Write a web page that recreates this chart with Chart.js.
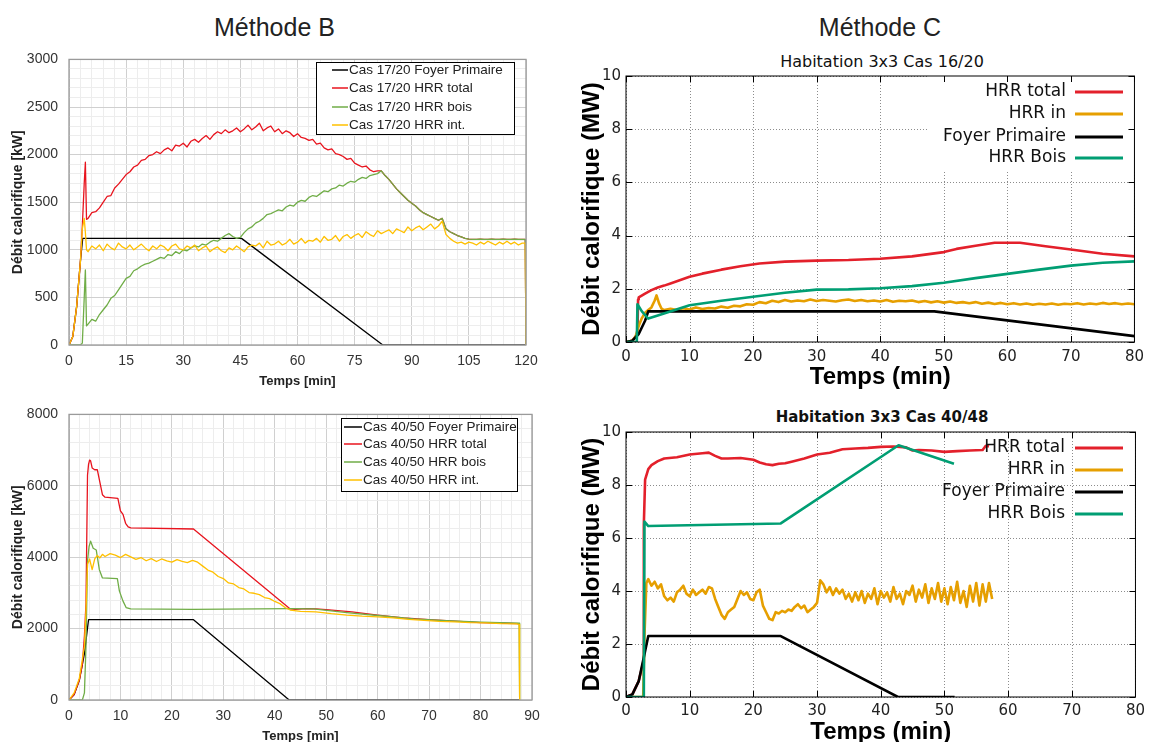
<!DOCTYPE html>
<html>
<head>
<meta charset="utf-8">
<script src="https://cdn.jsdelivr.net/npm/chart.js@4.4.1/dist/chart.umd.min.js"></script>
<style>
body { margin:0; width:1150px; height:742px; overflow:hidden; background:#fff; position:relative; }
canvas { position:absolute; }
.head { position:absolute; text-align:center; font-family:'Liberation Sans', Arial, sans-serif; font-size:25px; color:#222; line-height:30px; }
.sub { position:absolute; text-align:center; font-family:'DejaVu Sans', sans-serif; color:#111; line-height:20px; }
</style>
</head>
<body>
<div class="head" style="left:0;top:12px;width:549px">Méthode B</div>
<div class="head" style="left:610px;top:12px;width:540px">Méthode C</div>
<div class="sub" style="left:622px;top:52px;width:520px;font-size:16px">Habitation 3x3 Cas 16/20</div>
<div class="sub" style="left:622px;top:407px;width:520px;font-size:15px;font-weight:bold">Habitation 3x3 Cas 40/48</div>
<canvas id="cA" width="560" height="355" style="left:0;top:40px"></canvas>
<canvas id="cB" width="560" height="355" style="left:0;top:395px"></canvas>
<canvas id="cC" width="590" height="355" style="left:560px;top:40px"></canvas>
<canvas id="cD" width="590" height="355" style="left:560px;top:395px"></canvas>
<script>
// Méthode B - Cas 17/20 (kW)
var tA = [0,1,2,3,3.5,4,4.3,4.6,
  5,6,7,8,9,10,11,12,13,14,
  15,16,17,18,19,20,21,22,23,24,
  25,26,27,28,29,30,31,32,33,34,
  35,36,37,38,39,40,41,42,43,44,
  45,46,47,48,49,50,51,52,53,54,
  55,56,57,58,59,60,61,62,63,64,
  65,66,67,68,69,70,71,72,73,74,
  75,76,77,78,79,80,81,82,83,84,
  85,86,87,88,89,90,91,92,93,94,
  95,96,97,98,99,100,101,102,103,104,
  105,106,107,108,109,110,111,112,113,114,
  115,116,117,118,119,119.8,120];
var totalA = [0,90,400,880,1250,1700,1920,1320,
  1330,1390,1400,1440,1500,1560,1570,1650,1690,1740,
  1790,1820,1870,1890,1940,1950,1990,2000,2030,2010,
  2050,2070,2040,2100,2090,2120,2080,2140,2160,2130,
  2170,2200,2160,2210,2240,2220,2260,2230,2250,2280,
  2240,2270,2310,2260,2290,2330,2250,2280,2300,2240,
  2270,2220,2250,2230,2190,2220,2180,2170,2150,2160,
  2110,2120,2070,2050,2060,2010,2000,1980,1950,1960,
  1910,1890,1870,1880,1840,1820,1830,1830,1780,1740,
  1690,1640,1600,1560,1520,1490,1460,1420,1390,1370,
  1350,1330,1310,1330,1220,1190,1170,1150,1135,1120,
  1112,1110,1110,1112,1110,1110,1112,1110,1110,1112,
  1110,1110,1112,1110,1110,1110,0];
var boisA = [0,0,0,0,20,500,790,200,
  220,270,250,320,370,420,490,520,580,640,
  700,720,780,800,830,850,860,880,900,920,
  910,950,940,980,960,1000,990,1020,1040,1030,
  1060,1050,1080,1100,1090,1120,1150,1170,1140,1120,
  1130,1180,1220,1240,1280,1300,1330,1370,1380,1400,
  1420,1410,1450,1470,1460,1500,1520,1510,1550,1570,
  1560,1590,1620,1610,1640,1650,1680,1670,1700,1720,
  1710,1740,1760,1750,1780,1790,1800,1830,1780,1740,
  1690,1640,1600,1560,1520,1490,1460,1420,1390,1370,
  1350,1330,1310,1330,1220,1190,1170,1150,1135,1120,
  1112,1110,1110,1112,1110,1110,1112,1110,1110,1112,
  1110,1110,1112,1110,1110,1110,0];
var intA = [0,90,400,880,1220,1330,1180,1000,
  980,1040,1010,1050,990,1060,1020,1000,1070,1030,
  1010,1050,1000,1030,1060,1020,990,1040,1010,1050,
  1030,990,1040,1060,1010,1000,1040,1020,1050,990,
  1020,1040,980,1010,1030,990,970,1020,1000,1040,
  1010,980,1030,1050,1040,1070,1020,1090,1050,1060,
  1090,1050,1070,1110,1060,1080,1120,1070,1100,1090,
  1120,1080,1140,1100,1110,1150,1090,1140,1160,1120,
  1150,1170,1130,1190,1160,1140,1200,1170,1190,1210,
  1170,1220,1200,1180,1240,1200,1230,1250,1210,1240,
  1270,1220,1250,1300,1160,1120,1090,1070,1080,1060,
  1080,1070,1050,1080,1060,1090,1070,1050,1080,1060,
  1090,1060,1080,1050,1070,1070,0];
var foyerAt = [0,1,2,3,3.6,45.3,82.4,120];
var foyerAv = [0,90,400,880,1120,1120,0,0];

// Méthode B - Cas 40/50 (kW)
var totalBt = [0,1,2,2.6,3,3.3,3.6,3.8,4,4.2,4.5,5,5.5,6,6.5,7,9.5,10,10.5,11,11.5,12,24.2,43,44,46,48,50,55,60,65,70,75,80,85,87.5];
var totalBv = [0,150,550,1000,1800,2700,6300,6600,6720,6700,6500,6450,6450,6100,5750,5680,5650,5300,5200,4950,4850,4820,4790,2550,2540,2560,2550,2530,2470,2380,2300,2250,2210,2170,2150,2140];
var boisBt = [0,2.6,3,3.3,3.6,3.9,4.2,4.7,5.3,5.9,6.5,9.4,9.8,10.5,11.1,12,24,43,47.5,54,60.5,67,73.4,80,87.5,87.6];
var boisBv = [0,0,200,1500,3900,4300,4450,4250,4200,3650,3420,3400,3050,2770,2590,2550,2540,2560,2555,2450,2360,2270,2220,2180,2150,0];
var intBt = [0,1,2,3,3.3,3.6,4,4.5,5,5.5,6,6.5,
  7,8,9,10,11,12,13,14,15,16,
  17,18,19,20,21,22,23,24,25,26,
  27,28,29,30,31,32,33,34,35,36,
  37,38,39,40,41,42,43,
  45,48,51,54,57,60,63,66,69,72,75,78,81,84,87,87.5,87.6];
var intBv = [0,200,600,1500,2500,3800,3950,3650,3950,4050,3980,4080,
  4020,4100,4060,3990,4080,4010,3940,3990,3900,3960,
  3880,3950,3900,3860,3930,3880,3850,3910,3860,3750,
  3640,3580,3460,3400,3280,3250,3150,3110,3010,2990,
  2950,2870,2840,2760,2700,2590,2520,
  2480,2470,2420,2380,2350,2330,2300,2260,2230,2200,2190,2170,2160,2140,2130,2120,0];
var foyerBt = [0,1,2,3,3.5,3.8,24.2,42.8,87.5];
var foyerBv = [0,150,550,1300,1900,2250,2250,0,0];

// Méthode C - Cas 16/20 (MW)
var totalCt = [0,1,1.8,1.9,2,3,4,5,6,7,8,10,12,15,18,21,25,30,35,40,45,50,52,55,58,62,66,70,75,80];
var totalCv = [0,0.05,0.3,1.6,1.68,1.82,1.95,2.05,2.12,2.2,2.28,2.45,2.57,2.72,2.85,2.95,3.02,3.06,3.08,3.13,3.22,3.38,3.5,3.62,3.73,3.73,3.6,3.48,3.32,3.22];
var inCt = [0,1,1.5,2,2.5,3,3.5,4,4.5,4.8,5.2,5.6,6,
  7,8,9,10,11,12,13,14,15,16,
  17,18,19,20,21,22,23,24,25,26,
  27,28,29,30,31,32,33,34,35,36,
  37,38,39,40,41,42,43,44,45,46,
  47,48,49,50,51,52,53,54,55,56,
  57,58,59,60,61,62,63,64,65,66,
  67,68,69,70,71,72,73,74,75,76,
  77,78,79,80];
var inCv = [0,0.05,0.2,0.6,0.9,1.1,1.2,1.3,1.55,1.75,1.45,1.25,1.2,
  1.25,1.2,1.27,1.22,1.3,1.24,1.28,1.26,1.33,1.29,
  1.36,1.34,1.42,1.4,1.5,1.46,1.55,1.5,1.58,1.52,
  1.56,1.53,1.6,1.54,1.58,1.55,1.52,1.57,1.6,1.54,
  1.58,1.53,1.56,1.52,1.58,1.51,1.55,1.53,1.56,1.5,
  1.54,1.49,1.53,1.48,1.52,1.47,1.5,1.46,1.5,1.44,
  1.48,1.43,1.47,1.42,1.46,1.41,1.45,1.4,1.44,1.41,
  1.45,1.4,1.44,1.42,1.46,1.41,1.45,1.42,1.47,1.43,
  1.46,1.42,1.45,1.42];
var foyerCt = [0,1,2,3,3.5,48.5,80];
var foyerCv = [0,0.05,0.3,0.8,1.15,1.15,0.22];
var boisCt = [0,1.7,1.8,2.5,3.5,5,10,15,20,25,30,35,40,45,50,55,60,65,70,75,80];
var boisCv = [0,0,1.42,1.15,0.88,1.0,1.38,1.55,1.7,1.85,1.97,1.98,2.02,2.1,2.23,2.4,2.56,2.72,2.87,2.98,3.03];

// Méthode C - Cas 40/48 (MW)
var totalDt = [0,1,2,2.7,2.8,3,3.5,4,5,6,8,10,12,13,14,15,16,18,20,21,22,23,24,25,26,28,30,32,34,36,38,40,42,44,45,46,48,50,52,54,56,56.5,57];
var totalDv = [0,0.1,0.6,1.3,6.5,8.2,8.6,8.75,8.9,9.0,9.05,9.15,9.2,9.22,9.1,9.0,9.0,9.02,8.95,8.85,8.78,8.75,8.8,8.82,8.88,9.0,9.15,9.22,9.35,9.38,9.4,9.44,9.45,9.42,9.3,9.32,9.3,9.25,9.28,9.3,9.32,9.48,9.45];
var inDt = [0,2.7,2.9,3.2,3.5,
  4,4.5,5,5.5,6,6.5,7,7.5,8,8.5,
  9,9.5,10,10.5,11,11.5,12,12.5,13,13.5,
  14,14.5,15,15.5,16,16.5,17,17.5,18,18.5,
  19,19.5,20,20.5,21,21.5,22,22.5,23,23.5,
  24,24.5,25,25.5,26,26.5,27,27.5,28,28.5,
  29,29.5,30,30.5,31,31.5,32,32.5,33,33.5,
  34,34.5,35,35.5,36,36.5,37,37.5,38,38.5,
  39,39.5,40,40.5,41,41.5,42,42.5,43,43.5,
  44,44.5,45,45.5,46,46.5,47,47.5,48,48.5,
  49,49.5,50,50.5,51,51.5,52,52.5,53,53.5,
  54,54.5,55,55.5,56,56.5,57,57.5];
var inDv = [0,0,2.3,4.3,4.45,
  4.2,4.35,4.1,4.25,3.8,3.65,3.75,3.6,3.95,4.05,
  4.2,3.9,3.8,4.05,3.85,3.95,4.05,3.9,4.15,4.1,
  3.7,3.4,3.1,2.95,3.2,3.3,3.4,3.7,4.0,3.85,
  3.95,3.7,3.65,3.95,4.05,3.45,3.2,2.95,2.9,3.2,
  3.15,3.25,3.2,3.3,3.25,3.4,3.5,3.35,3.45,3.2,
  3.3,3.4,3.55,4.4,4.25,3.95,4.15,3.85,4.1,3.9,
  4.05,3.7,3.9,3.6,3.95,3.65,4.0,3.55,3.9,3.7,
  4.1,3.5,4.0,3.75,3.95,3.6,4.15,3.7,3.9,3.5,
  4.0,3.85,4.2,3.6,4.05,3.75,4.25,3.55,4.1,3.7,
  4.3,3.6,4.1,3.5,4.15,3.65,4.35,3.55,4.0,3.4,
  4.2,3.6,4.3,3.45,4.25,3.6,4.3,3.7];
var foyerDt = [0,1,2,2.8,3.5,24.3,42.7,51.6];
var foyerDv = [0,0.1,0.6,1.5,2.3,2.3,0,0];
var boisDt = [0,2.8,2.9,3.5,24.3,42.8,51.5];
var boisDv = [0,0,6.62,6.45,6.55,9.5,8.8];

function pts(t, v) { return t.map(function(x, i) { return {x: x, y: v[i]}; }); }

// dotted grid, frame, inward ticks and in-plot legend
var decor = {
  id: 'decor',
  beforeDatasetsDraw: function(chart, args, o) {
    var c = chart.ctx, a = chart.chartArea, xs = chart.scales.x, ys = chart.scales.y;
    c.save();
    if (o.grid) {
      c.strokeStyle = o.grid; c.lineWidth = 1; c.setLineDash([1, 2]); c.beginPath();
      xs.ticks.forEach(function(t) {
        var p = Math.round(xs.getPixelForValue(t.value)) + 0.5;
        c.moveTo(p, a.top); c.lineTo(p, a.bottom);
      });
      ys.ticks.forEach(function(t) {
        var p = Math.round(ys.getPixelForValue(t.value)) + 0.5;
        c.moveTo(a.left, p); c.lineTo(a.right, p);
      });
      c.stroke(); c.setLineDash([]);
    }
    if (o.box) { c.fillStyle = '#fff'; c.fillRect(o.box[0], o.box[1], o.box[2], o.box[3]); }
    c.restore();
  },
  afterDatasetsDraw: function(chart, args, o) {
    var c = chart.ctx, a = chart.chartArea, xs = chart.scales.x, ys = chart.scales.y;
    c.save();
    if (o.ticks) {
      c.strokeStyle = '#000'; c.lineWidth = 1; c.beginPath();
      xs.ticks.forEach(function(t) {
        var p = Math.round(xs.getPixelForValue(t.value)) + 0.5;
        c.moveTo(p, a.bottom); c.lineTo(p, a.bottom - o.ticks);
        c.moveTo(p, a.top); c.lineTo(p, a.top + o.ticks);
      });
      ys.ticks.forEach(function(t) {
        var p = Math.round(ys.getPixelForValue(t.value)) + 0.5;
        c.moveTo(a.left, p); c.lineTo(a.left + o.ticks, p);
        c.moveTo(a.right, p); c.lineTo(a.right - o.ticks, p);
      });
      c.stroke();
    }
    c.strokeStyle = o.frame; c.lineWidth = o.frameWidth;
    c.strokeRect(a.left, a.top, a.right - a.left, a.bottom - a.top);
    var L = o.legend;
    if (L.rect) {
      c.fillStyle = '#fff'; c.fillRect(L.rect[0], L.rect[1], L.rect[2], L.rect[3]);
      c.strokeStyle = '#000'; c.lineWidth = 1;
      c.strokeRect(L.rect[0] + 0.5, L.rect[1] + 0.5, L.rect[2], L.rect[3]);
    }
    c.font = L.font; c.textBaseline = 'middle'; c.textAlign = L.align;
    chart.data.datasets.forEach(function(d, i) {
      var y = L.rows[i];
      c.strokeStyle = d.borderColor; c.lineWidth = L.lw;
      c.beginPath(); c.moveTo(L.x0, y); c.lineTo(L.x1, y); c.stroke();
      c.fillStyle = L.color; c.fillText(d.label, L.tx, y);
    });
    c.restore();
  }
};

function line(label, t, v, color, width, order) {
  return { label: label, data: pts(t, v), borderColor: color, borderWidth: width, pointRadius: 0,
    fill: false, tension: 0, order: order, borderJoinStyle: 'round' };
}

function excelChart(id, sets, xmax, xstep, xmaj, ymax, ystep, ymaj, pad, legend) {
  var font = 'Liberation Sans';
  return new Chart(document.getElementById(id), {
    type: 'line',
    data: { datasets: sets },
    options: {
      responsive: false, animation: false,
      layout: { padding: pad },
      plugins: { legend: { display: false }, tooltip: { enabled: false },
        decor: { frame: '#9a9a9a', frameWidth: 1.3, legend: legend } },
      scales: {
        x: { type: 'linear', min: 0, max: xmax,
          ticks: { stepSize: xstep, autoSkip: false, maxRotation: 0, padding: 8, color: '#333',
            font: { family: font, size: 14 },
            callback: function(v) { return Math.round(v) % xmaj === 0 ? v : ''; } },
          grid: { drawTicks: false, color: function(c) { return Math.round(c.tick.value) % xmaj === 0 ? '#d0d0d0' : '#ededed'; } },
          border: { display: false },
          title: { display: true, text: 'Temps [min]', color: '#222', font: { family: font, size: 13, weight: 'bold' }, padding: { top: 0, bottom: 6 } },
          afterFit: function(s) { s.height = 50; } },
        y: { type: 'linear', min: 0, max: ymax,
          ticks: { stepSize: ystep, autoSkip: false, padding: 11, color: '#333',
            font: { family: font, size: 14 },
            callback: function(v) { return Math.round(v) % ymaj === 0 ? v : ''; } },
          grid: { drawTicks: false, color: function(c) { return Math.round(c.tick.value) % ymaj === 0 ? '#d0d0d0' : '#ededed'; } },
          border: { display: false },
          title: { display: true, text: 'Débit calorifique [kW]', color: '#222', font: { family: font, size: 14, weight: 'bold' }, padding: { top: 10, bottom: 0 } },
          afterFit: function(s) { s.width = 69; } }
      }
    },
    plugins: [decor]
  });
}

function gnuChart(id, sets, pad, tickPad, legend, box) {
  return new Chart(document.getElementById(id), {
    type: 'line',
    data: { datasets: sets },
    options: {
      responsive: false, animation: false,
      layout: { padding: pad },
      plugins: { legend: { display: false }, tooltip: { enabled: false },
        decor: { frame: '#000', frameWidth: 1, ticks: 6, grid: '#8c8c8c', legend: legend, box: box } },
      scales: {
        x: { type: 'linear', min: 0, max: 80,
          ticks: { stepSize: 10, maxRotation: 0, padding: tickPad, color: '#222', font: { family: 'DejaVu Sans', size: 15 } },
          grid: { drawTicks: false, color: 'rgba(0,0,0,0)' },
          border: { display: false },
          title: { display: true, text: 'Temps (min)', color: '#000', font: { family: 'Liberation Sans', size: 24, weight: 'bold' }, padding: { top: 0, bottom: 3 } },
          afterFit: function(s) { s.height = 53; } },
        y: { type: 'linear', min: 0, max: 10,
          ticks: { stepSize: 2, padding: 5, color: '#222', font: { family: 'DejaVu Sans', size: 15 } },
          grid: { drawTicks: false, color: 'rgba(0,0,0,0)' },
          border: { display: false },
          title: { display: true, text: 'Débit calorifique (MW)', color: '#000', font: { family: 'Liberation Sans', size: 24, weight: 'bold' }, padding: { top: 18, bottom: 0 } },
          afterFit: function(s) { s.width = 66; } }
      }
    },
    plugins: [decor]
  });
}

var xlBlack = '#000000', xlRed = '#e8141e', xlGreen = '#70ad47', xlYellow = '#ffc000';
var gRed = '#e3202b', gYellow = '#e69f00', gBlack = '#000000', gGreen = '#009e73';

excelChart('cA', [
  line('Cas 17/20 Foyer Primaire', foyerAt, foyerAv, xlBlack, 1.3, 3),
  line('Cas 17/20 HRR total', tA, totalA, xlRed, 1.3, 2),
  line('Cas 17/20 HRR bois', tA, boisA, xlGreen, 1.3, 1),
  line('Cas 17/20 HRR int.', tA, intA, xlYellow, 1.3, 0)
], 120, 3, 15, 3000, 100, 500, { left: 0, top: 10, right: 34, bottom: 0 },
  { rect: [316, 22, 198, 72], rows: [30, 48, 67, 85], x0: 332, x1: 348, tx: 349, lw: 1.5,
    align: 'left', color: '#222', font: '13.5px "Liberation Sans"' });

excelChart('cB', [
  line('Cas 40/50 Foyer Primaire', foyerBt, foyerBv, xlBlack, 1.3, 3),
  line('Cas 40/50 HRR total', totalBt, totalBv, xlRed, 1.3, 2),
  line('Cas 40/50 HRR bois', boisBt, boisBv, xlGreen, 1.3, 1),
  line('Cas 40/50 HRR int.', intBt, intBv, xlYellow, 1.3, 0)
], 90, 2, 10, 8000, 400, 2000, { left: 0, top: 11, right: 28, bottom: 0 },
  { rect: [341, 23, 176, 73], rows: [32, 49, 67, 85], x0: 344, x1: 362, tx: 363, lw: 1.5,
    align: 'left', color: '#222', font: '13.5px "Liberation Sans"' });

gnuChart('cC', [
  line('HRR total', totalCt, totalCv, gRed, 2.6, 3),
  line('HRR in', inCt, inCv, gYellow, 2.6, 2),
  line('Foyer Primaire', foyerCt, foyerCv, gBlack, 2.6, 1),
  line('HRR Bois', boisCt, boisCv, gGreen, 2.6, 0)
], { left: 0, top: 36, right: 12, bottom: 0 }, 6,
  { rows: [52, 74, 97, 118], x0: 515, x1: 563, tx: 506, lw: 3, align: 'right', color: '#111', font: '17px "DejaVu Sans"' },
  [367, 36, 211, 95]);

gnuChart('cD', [
  line('HRR total', totalDt, totalDv, gRed, 2.6, 3),
  line('HRR in', inDt, inDv, gYellow, 2.6, 2),
  line('Foyer Primaire', foyerDt, foyerDv, gBlack, 2.6, 1),
  line('HRR Bois', boisDt, boisDv, gGreen, 2.6, 0)
], { left: 0, top: 37, right: 13, bottom: 0 }, 5,
  { rows: [53, 75, 97, 119], x0: 515, x1: 563, tx: 505, lw: 3, align: 'right', color: '#111', font: '17px "DejaVu Sans"' },
  null);
</script>
</body>
</html>
